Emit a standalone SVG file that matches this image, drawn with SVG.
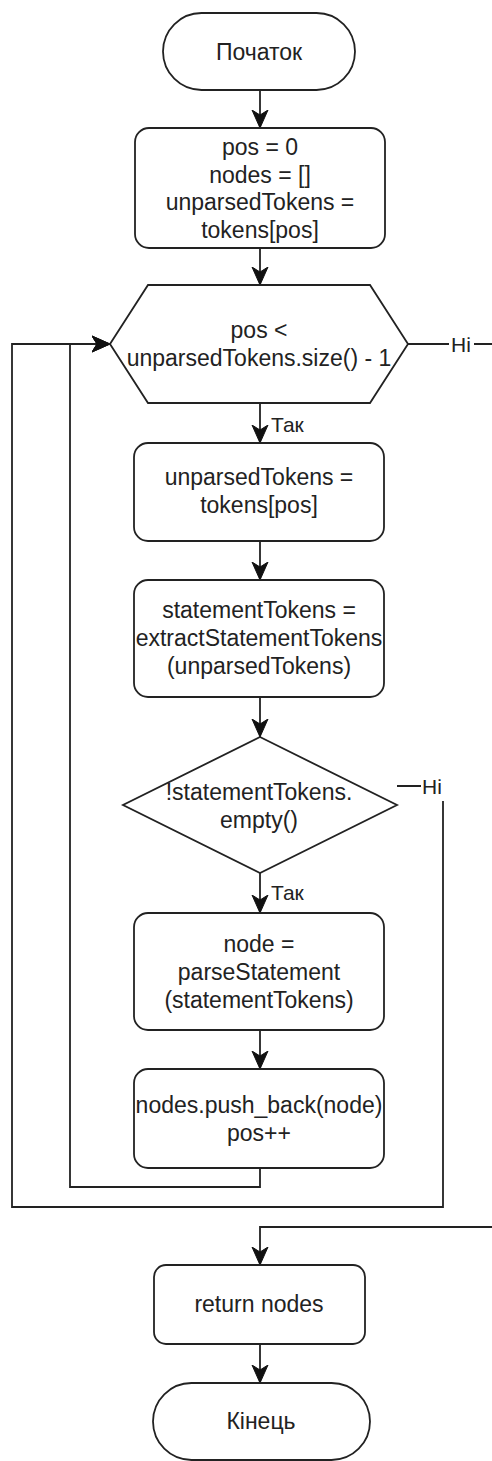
<svg xmlns="http://www.w3.org/2000/svg" width="492" height="1461" viewBox="0 0 492 1461">
  <style>
    .shape { fill: #ffffff; stroke: #222222; stroke-width: 1.8; }
    .edge { fill: none; stroke: #222222; stroke-width: 1.8; }
    .txt { font-family: "Liberation Sans", Arial, sans-serif; font-size: 23px; fill: #222222; text-anchor: middle; }
    .lbl { font-family: "Liberation Sans", Arial, sans-serif; font-size: 21px; fill: #222222; }
    .lblbg { fill: #ffffff; stroke: none; }
  </style>
  <defs>
    <marker id="arrow" markerUnits="userSpaceOnUse" markerWidth="20" markerHeight="18" refX="18" refY="9" orient="auto">
      <path d="M18,9 L0,1 L5,9 L0,17 Z" fill="#111111" stroke="#111111" stroke-width="1"/>
    </marker>
  </defs>
  <rect width="492" height="1461" fill="#ffffff"/>

  <!-- connectors -->
  <g id="connectors">
    <path class="edge" d="M260,90 V128" marker-end="url(#arrow)"/>
    <path class="edge" d="M260,248 V285" marker-end="url(#arrow)"/>
    <path class="edge" d="M260,403 V443" marker-end="url(#arrow)"/>
    <path class="edge" d="M260,541 V580" marker-end="url(#arrow)"/>
    <path class="edge" d="M260,697 V737" marker-end="url(#arrow)"/>
    <path class="edge" d="M260,873 V913" marker-end="url(#arrow)"/>
    <path class="edge" d="M260,1030 V1069" marker-end="url(#arrow)"/>
    <path class="edge" d="M260,1168 V1187 H70 V344 H110" marker-end="url(#arrow)"/>
    <path class="edge" d="M397,786 H443 V1207 H12 V344 H110" marker-end="url(#arrow)"/>
    <path class="edge" d="M408,344 H500 V1227 H260 V1265" marker-end="url(#arrow)"/>
    <path class="edge" d="M260,1344 V1383" marker-end="url(#arrow)"/>
    <!-- edge labels -->
    <rect class="lblbg" x="449" y="333" width="25" height="23"/>
    <text class="lbl" x="461" y="352" text-anchor="middle">Ні</text>
    <text class="lbl" x="271" y="432">Так</text>
    <rect class="lblbg" x="421" y="774" width="26" height="27"/>
    <text class="lbl" x="432" y="794" text-anchor="middle">Ні</text>
    <text class="lbl" x="271" y="900">Так</text>
  </g>

  <g id="start">
    <rect class="shape" x="163" y="13" width="192" height="77" rx="38.5"/>
    <text class="txt" x="259" y="60">Початок</text>
  </g>

  <g id="init">
    <rect class="shape" x="135" y="128" width="250" height="120" rx="14"/>
    <text class="txt" x="260" y="155">pos = 0</text>
    <text class="txt" x="260" y="182.5">nodes = []</text>
    <text class="txt" x="260" y="210">unparsedTokens =</text>
    <text class="txt" x="260" y="237.5">tokens[pos]</text>
  </g>

  <g id="loop-cond">
    <polygon class="shape" points="110,344 148,285 370,285 408,344 370,403 148,403"/>
    <text class="txt" x="259" y="338">pos &lt;</text>
    <text class="txt" x="259" y="366">unparsedTokens.size() - 1</text>
  </g>

  <g id="take-tokens">
    <rect class="shape" x="134" y="443" width="250" height="98" rx="14"/>
    <text class="txt" x="259" y="485">unparsedTokens =</text>
    <text class="txt" x="259" y="513">tokens[pos]</text>
  </g>

  <g id="extract">
    <rect class="shape" x="134" y="580" width="250" height="117" rx="14"/>
    <text class="txt" x="259" y="618">statementTokens =</text>
    <text class="txt" x="259" y="646">extractStatementTokens</text>
    <text class="txt" x="259" y="674">(unparsedTokens)</text>
  </g>

  <g id="empty-check">
    <polygon class="shape" points="260,737 397,805 260,873 123,805"/>
    <text class="txt" x="259" y="800">!statementTokens.</text>
    <text class="txt" x="259" y="828">empty()</text>
  </g>

  <g id="parse">
    <rect class="shape" x="134" y="913" width="250" height="117" rx="14"/>
    <text class="txt" x="259" y="952">node =</text>
    <text class="txt" x="259" y="980">parseStatement</text>
    <text class="txt" x="259" y="1008">(statementTokens)</text>
  </g>

  <g id="push">
    <rect class="shape" x="134" y="1069" width="250" height="99" rx="14"/>
    <text class="txt" x="259" y="1113">nodes.push_back(node)</text>
    <text class="txt" x="259" y="1141">pos++</text>
  </g>

  <g id="return">
    <rect class="shape" x="154" y="1265" width="211" height="79" rx="12"/>
    <text class="txt" x="259" y="1312">return nodes</text>
  </g>

  <g id="end">
    <rect class="shape" x="153" y="1383" width="217" height="77" rx="38.5"/>
    <text class="txt" x="261" y="1429">Кінець</text>
  </g>
</svg>
